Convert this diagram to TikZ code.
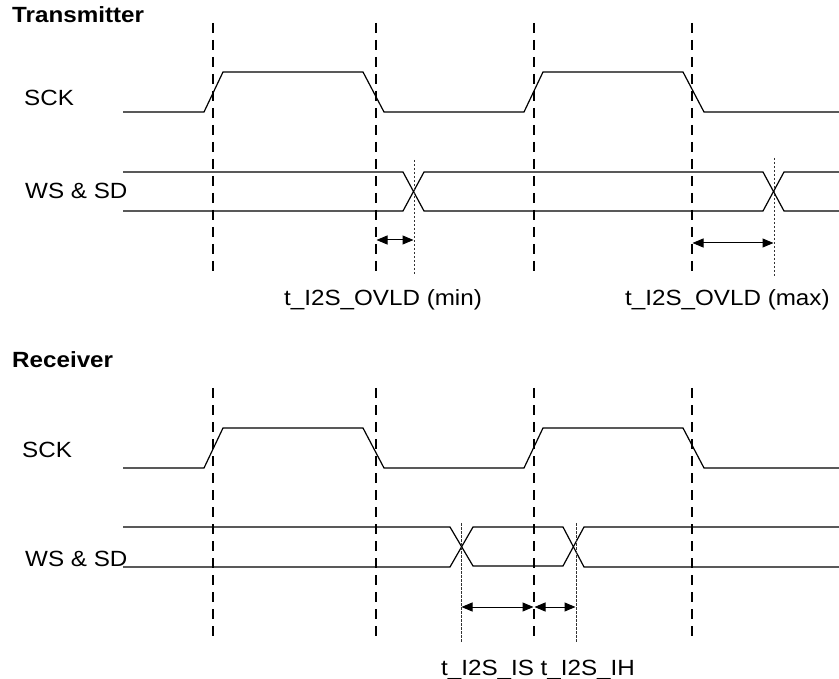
\documentclass[tikz,border=0pt]{standalone}
\usepackage{fontspec}
\setmainfont{Liberation Sans}[FakeStretch=1.1]
\usetikzlibrary{arrows.meta}
\begin{document}
\begin{tikzpicture}[x=1pt,y=-1pt,
  sig/.style={line width=1.2pt, line join=miter},
  gridline/.style={line width=1.2pt, dash pattern=on 10pt off 7pt},
  fineline/.style={line width=0.75pt, dash pattern=on 2.5pt off 1.5pt, black!80},
  dimarrow/.style={line width=1pt, {Triangle[length=11pt,width=9pt]}-{Triangle[length=11pt,width=9pt]}, shorten <=0.5pt, shorten >=0.5pt},
  lbl/.style={font=\fontsize{22}{25}\selectfont, inner sep=0pt, anchor=base west},
  ttl/.style={lbl, font=\fontsize{22}{25}\selectfont\bfseries}]
\useasboundingbox (0,0) rectangle (839,679);

% titles and signal names
\node[ttl] (tx) at (12,23) {Transmitter};
\node[ttl] (rx) at (12,367) {Receiver};
\node[lbl] (sckA) at (24,106) {SCK};
\node[lbl] (wsA) at (25,199) {WS \& SD};
\node[lbl] (sckB) at (22,457) {SCK};
\node[lbl] (wsB) at (25,566) {WS \& SD};

% clock-edge reference lines
\foreach \x in {213,376,534,692} {
  \draw[gridline] (\x,23) -- (\x,273);
  \draw[gridline] (\x,388) -- (\x,637);
}

% transmitter signals
\draw[sig] (123,112) -- (204,112) -- (223,72) -- (363,72) -- (384,112) -- (524,112) -- (543,72) -- (683,72) -- (704,112) -- (839,112);
\draw[sig] (123,172) -- (403,172) -- (424,211) -- (763,211) -- (784,172) -- (839,172);
\draw[sig] (123,211) -- (403,211) -- (424,172) -- (763,172) -- (784,211) -- (839,211);

% receiver signals
\draw[sig] (123,468) -- (204,468) -- (223,428) -- (363,428) -- (384,468) -- (524,468) -- (543,428) -- (683,428) -- (704,468) -- (839,468);
\draw[sig] (123,527) -- (450,527) -- (473,566) -- (563,566) -- (584,527) -- (839,527);
\draw[sig] (123,567) -- (450,567) -- (473,527) -- (563,527) -- (584,567) -- (839,567);

% fine markers at data transitions
\draw[fineline] (414,160) -- (414,275);
\draw[fineline] (774,158) -- (774,278);
\draw[fineline] (461,523) -- (461,642);
\draw[fineline] (576,523) -- (576,642);

% dimension end points
\coordinate (a1) at (376,240);
\coordinate (a2) at (414,240);
\coordinate (b1) at (692,243);
\coordinate (b2) at (774,243);
\coordinate (c1) at (461,607);
\coordinate (c2) at (534,607);
\coordinate (c3) at (576,607);

\draw[dimarrow] (a1) -- (a2);
\draw[dimarrow] (b1) -- (b2);
\draw[dimarrow] (c1) -- (c2);
\draw[dimarrow] (c2) -- (c3);

% timing labels
\node[lbl] (lmin) at (284,306) {t\_I2S\_OVLD (min)};
\node[lbl] (lmax) at (625,306) {t\_I2S\_OVLD (max)};
\node[lbl] (lis) at (441,675) {t\_I2S\_IS t\_I2S\_IH};
\end{tikzpicture}
\end{document}
